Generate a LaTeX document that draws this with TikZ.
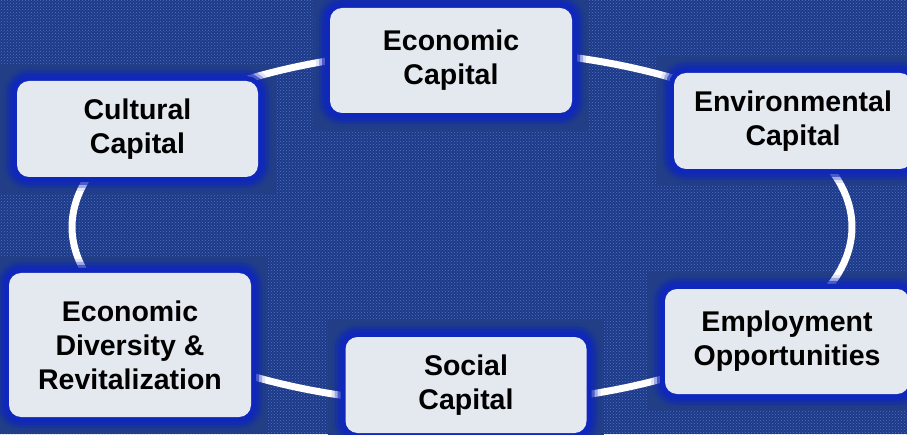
\documentclass[tikz,border=0pt]{standalone}
\usepackage{fontspec}
\setmainfont{Liberation Sans}
\usetikzlibrary{patterns,calc}
\definecolor{plainblue}{HTML}{213E86}
\definecolor{patbase}{HTML}{1C3A88}
\definecolor{dotblue}{HTML}{5272C0}
\definecolor{glowblue}{HTML}{0F27BA}
\definecolor{boxfill}{HTML}{E3E9EF}
\pgfdeclarelayer{background}
\pgfsetlayers{background,main}
\tikzset{
  capbox/.style={rounded corners=12pt, fill=boxfill, align=center,
    font=\fontsize{28.5}{34}\selectfont\bfseries, inner sep=0pt,
    preaction={draw=glowblue, line width=28pt, draw opacity=0.12},
    preaction={draw=glowblue, line width=22pt, draw opacity=0.3},
    preaction={draw=glowblue, line width=16pt, draw opacity=0.6},
    preaction={draw=glowblue, line width=10pt}},
  plainrect/.style={fill=plainblue, draw=none},
  link/.style={draw=white, line width=7pt}
}
\newcommand{\plainbehind}[1]{\fill[plainrect] ($(#1.south west)+(-17,-17)$) rectangle ($(#1.north east)+(17,17)$);}
\begin{document}
\begin{tikzpicture}[x=1pt,y=1pt]
\useasboundingbox (0,0) rectangle (907,434);
% boxes
\node[capbox, minimum width=242pt, minimum height=105pt] (econ) at (451,373.5) {Economic\\Capital};
\node[capbox, minimum width=241pt, minimum height=96pt] (cult) at (137.5,305) {Cultural\\Capital};
\node[capbox, minimum width=238pt, minimum height=96pt] (env) at (793,313) {Environmental\\Capital};
\node[capbox, minimum width=244pt, minimum height=105pt] (emp) at (787,92.5) {Employment\\Opportunities};
\node[capbox, minimum width=241pt, minimum height=96pt] (soc) at (466,49) {Social\\Capital};
\node[capbox, minimum width=242pt, minimum height=144pt] (div) at (130,89) {Economic\\Diversity \&\\Revitalization};
\coordinate (ec) at (462,207);
\begin{pgfonlayer}{background}
  \fill[patbase] (0,0) rectangle (907,434);
  \fill[pattern=crosshatch dots, pattern color=dotblue] (0,0) rectangle (907,434);
  \plainbehind{econ}
  \plainbehind{cult}
  \plainbehind{env}
  \plainbehind{emp}
  \plainbehind{soc}
  \plainbehind{div}
  % links along the ring
  \draw[link] (ec) ++(146.3:390 and 177) arc[start angle=146.3, end angle=91.6, x radius=390, y radius=177];
  \draw[link] (ec) ++(91.6:390 and 177) arc[start angle=91.6, end angle=31.9, x radius=390, y radius=177];
  \draw[link] (ec) ++(31.9:390 and 177) arc[start angle=31.9, end angle=-33.6, x radius=390, y radius=177];
  \draw[link] (ec) ++(-33.6:390 and 177) arc[start angle=-33.6, end angle=-90.6, x radius=390, y radius=177];
  \draw[link] (ec) ++(-90.6:390 and 177) arc[start angle=-90.6, end angle=-148.3, x radius=390, y radius=177];
  \draw[link] (ec) ++(211.7:390 and 177) arc[start angle=211.7, end angle=146.3, x radius=390, y radius=177];
\end{pgfonlayer}
\end{tikzpicture}
\end{document}
